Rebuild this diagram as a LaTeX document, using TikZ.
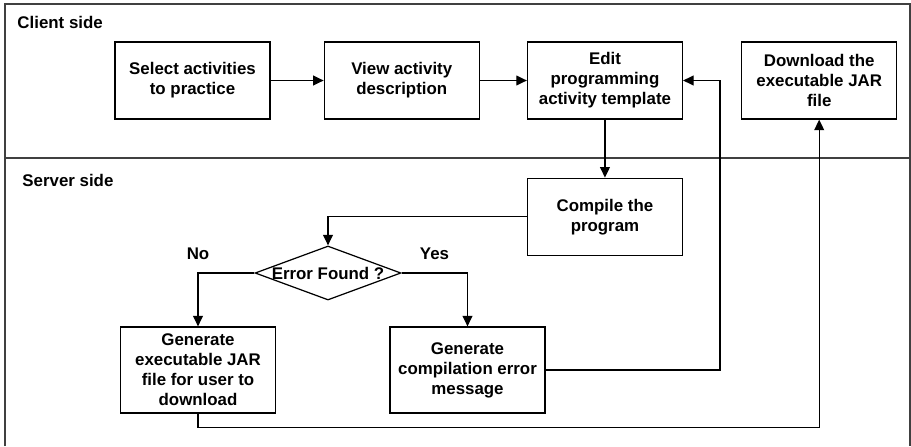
\documentclass[tikz,border=0pt]{standalone}
\usepackage{fontspec}
\setmainfont{Liberation Sans}
\usetikzlibrary{calc,arrows.meta,positioning,shapes.geometric}

\begin{document}
\begin{tikzpicture}[>={Triangle[length=6pt,width=5.6pt]},line width=0.7pt,
  every node/.style={font=\bfseries\fontsize{9.6}{11.4}\selectfont},
  box/.style={rectangle,draw,align=center,minimum width=3.1cm,minimum height=1.54cm,inner sep=1pt},
  tallbox/.style={box,minimum height=1.72cm},
  decision/.style={diamond,draw,shape aspect=2.7,inner sep=0pt,align=center}]

  \useasboundingbox (0,0) rectangle (18.22,-8.92);

  % lanes
  \draw[black!75,line width=0.9pt] (0.1,-8.92) -- (0.1,-0.08) -- (18.2,-0.08) -- (18.2,-8.92);
  \draw[black!75,line width=0.9pt] (0.1,-3.16) -- (18.2,-3.16);
  \node[anchor=west] (client) at (0.22,-0.44) {Client side};
  \node[anchor=west] (server) at (0.32,-3.6) {Server side};

  % client side
  \node[box] (select) at (3.85,-1.61) {Select activities\\to practice};
  \node[box] (view) [right =1.06cm of select] {View activity\\description};
  \node[box] (edit) [right =0.94cm of view] {Edit\\programming\\activity template};
  \node[box] (download) [right =1.16cm of edit] {Download the\\executable JAR\\file};

  % server side
  \node[box] (compile) [below =1.16cm of edit] {Compile the\\program};
  \node[decision] (error) at (6.56,-5.46) {Error Found ?};
  \node[tallbox] (jar) at (3.96,-7.4) {Generate\\executable JAR\\file for user to\\download};
  \node[tallbox] (message) at (9.35,-7.4) {Generate\\compilation error\\message};

  \path[->]
    (select) edge (view)
    (view) edge (edit)
    (edit) edge (compile);

  \draw[->] (compile.west) -| (error.north);
  \draw[->] (error.west) -| node[pos=0.5,above=0.14cm] {No} (jar.north);
  \draw[->] (error.east) -| node[pos=0.25,above=0.14cm] {Yes} (message.north);

  \draw[->] (message.east) -| ($(edit.east)+(0.74,0)$) -- (edit.east);
  \draw[->] (jar.south) -- ++(0,-0.28) -| (download.south);

\end{tikzpicture}
\end{document}
